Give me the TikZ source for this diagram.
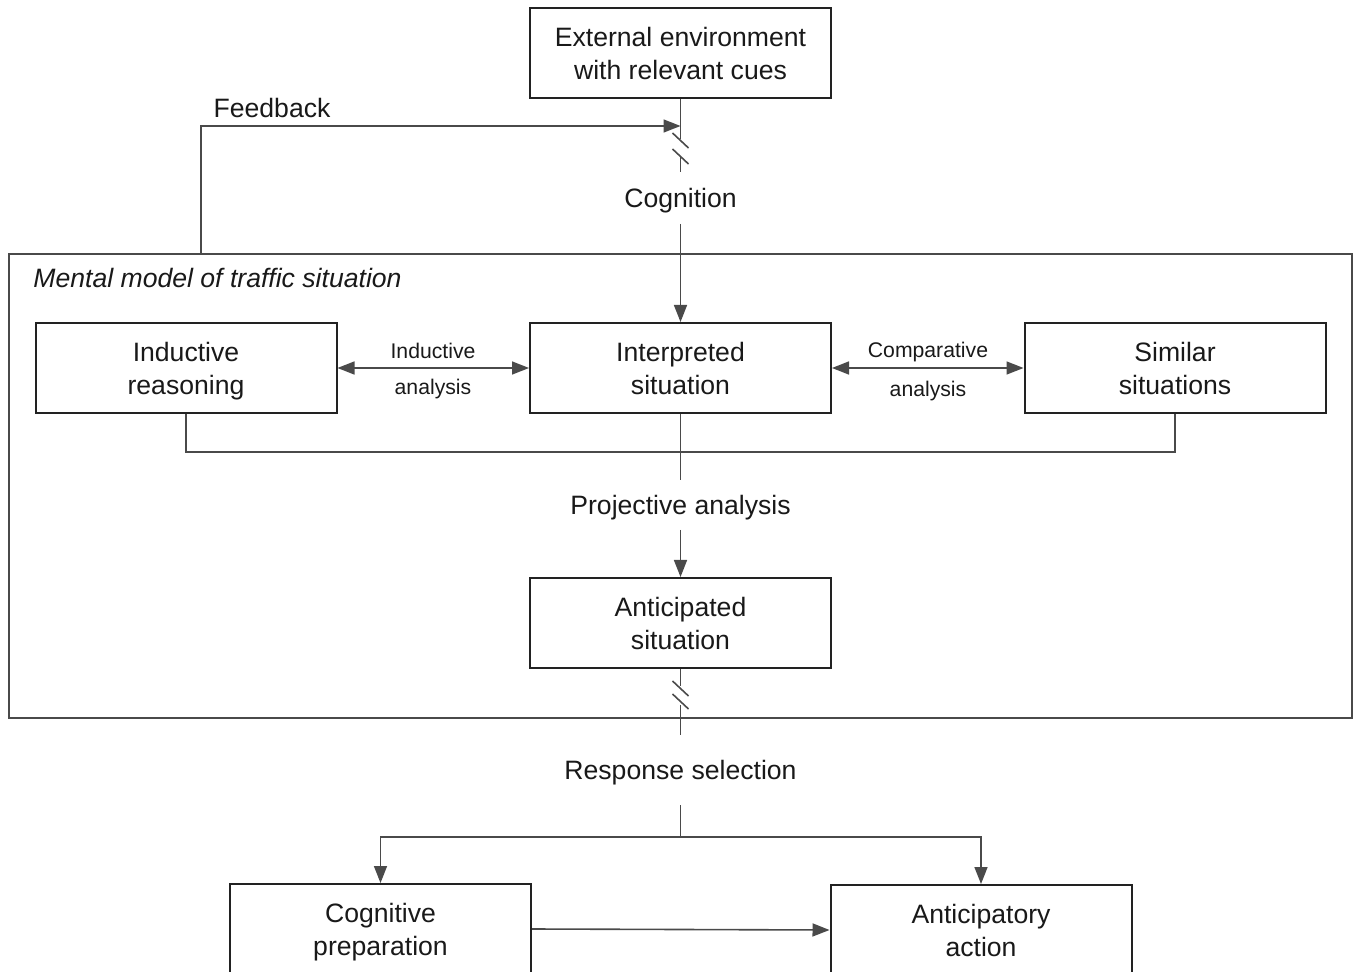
\documentclass[tikz,border=0pt]{standalone}
\usepackage{fontspec}
\setmainfont{Liberation Sans}
\usetikzlibrary{arrows.meta,calc}
\definecolor{ln}{HTML}{4A4A4A}
\definecolor{bx}{HTML}{222222}
\newcommand\bxs{\rule[-3pt]{0pt}{16pt}}
\newcommand\twoline[2]{\bxs#1\\\bxs#2}
\begin{document}
\begin{tikzpicture}[x=0.5pt,y=-0.5pt,
  box/.style={draw=bx, line width=1pt, minimum width=150.5pt, minimum height=45pt, align=center, font=\fontsize{13.3}{16.5}\selectfont, inner sep=0pt, text=black!90},
  lbl/.style={font=\fontsize{13.3}{16}\selectfont, inner sep=1pt, text=black!90},
  small/.style={font=\fontsize{10.6}{12}\selectfont, inner sep=1pt, text=black!90},
  con/.style={draw=ln, line width=0.8pt},
  tip/.tip={Triangle[length=8.5pt,width=6.5pt]},
  arr/.style={con, -tip},
  darr/.style={con, tip-tip}]
\clip (0,0) rectangle (1354,972);
\useasboundingbox (0,0) rectangle (1354,972);

% frame
\node[draw=ln, line width=0.8pt, minimum width=671.5pt, minimum height=232pt, inner sep=0pt] (frame) at (680.5,486) {};
\node[lbl, anchor=west, font=\fontsize{13.3}{16}\selectfont\itshape] (mm) at (31,278) {Mental model of traffic situation};

% boxes
\node[box] (ext) at (680.5,53) {\twoline{External environment}{with relevant cues}};
\node[box] (ind) at (186,368) {\twoline{Inductive}{reasoning}};
\node[box] (int) at (680.5,368) {\twoline{Interpreted}{situation}};
\node[box] (sim) at (1175,368) {\twoline{Similar}{situations}};
\node[box] (ant) at (680.5,623) {\twoline{Anticipated}{situation}};
\node[box] (cogp) at (380.5,929) {\twoline{Cognitive}{preparation}};
\node[box] (antact) at (981,930) {\twoline{Anticipatory}{action}};

% labels
\node[lbl] (fb) at (272,108) {Feedback};
\node[lbl] (cog) at (680.5,201) {Cognition};
\node[lbl] (proj) at (680.5,508) {Projective analysis};
\node[lbl] (resp) at (680.5,773) {Response selection};
\node[small] (ia1) at (433,351) {Inductive};
\node[small] (ia2) at (433,389) {analysis};
\node[small] (ca1) at (928,352) {Comparative};
\node[small] (ca2) at (928,391) {analysis};

% coordinates
\coordinate (fbstart) at (201,254);
\coordinate (fbin) at (680.5,126);
\coordinate (b1a) at (680.5,139);
\coordinate (b1b) at (680.5,157);
\coordinate (cogend) at (680.5,172);
\coordinate (cogstart) at (680.5,224);
\coordinate (projend) at (680.5,480);
\coordinate (projstart) at (680.5,530);
\coordinate (b2a) at (680.5,686);
\coordinate (b2b) at (680.5,705);
\coordinate (respend) at (680.5,735);
\coordinate (respstart) at (680.5,805);
\coordinate (split) at (680.5,837);

% feedback
\draw[arr] (fbstart) |- (fbin);

% cognition path with break
\draw[con] (ext.south) -- (b1a);
\draw[con] ($(b1a)+(-8,-6)$) -- ++(16,15);
\draw[con] ($(b1b)+(-8,-8)$) -- ++(16,15);
\draw[con] (b1b) -- (cogend);
\draw[arr] (cogstart) -- (int.north);

% analyses
\draw[darr] (ind.east) -- (int.west);
\draw[darr] (int.east) -- (sim.west);

% bracket
\draw[con] (ind.south) -- ++(0,38) -| (sim.south);
\draw[con] (int.south) -- (projend);
\draw[arr] (projstart) -- (ant.north);

% response path with break
\draw[con] (ant.south) -- (b2a);
\draw[con] ($(b2a)+(-8,-5)$) -- ++(16,15);
\draw[con] ($(b2b)+(-8,-11)$) -- ++(16,15);
\draw[con] (b2b) -- (respend);
\draw[con] (respstart) -- (split);
\draw[arr] (split) -| (cogp.north);
\draw[arr] (split) -| (antact.north);
\draw[arr] (cogp.east) -- (antact.west);
\end{tikzpicture}
\end{document}
